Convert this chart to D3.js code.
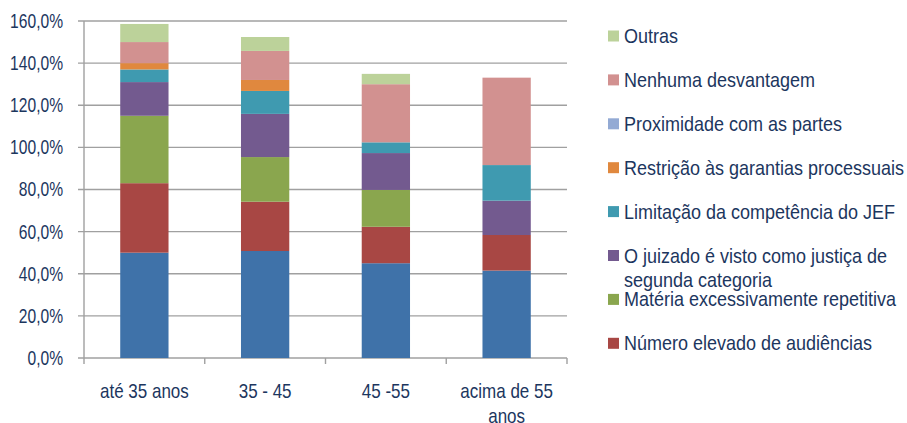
<!DOCTYPE html>
<html>
<head>
<meta charset="utf-8">
<script src="https://cdn.jsdelivr.net/npm/d3@7"></script>
<style>
  body { margin: 0; background: #fff; }
  text { font-family: "Liberation Sans", Arial, sans-serif; fill: #1c365e; }
</style>
</head>
<body>
<div id="chart"></div>
<script>
// categories (age groups)
var categories = ["até 35 anos", "35 - 45", "45 -55", "acima de 55 anos"];

// series, bottom to top (values in %)
var serieBase       = [50.0, 50.8, 45.0, 41.5];   // bottom blue series (no legend entry in the picture)
var numeroElevado   = [33.0, 23.4, 17.3, 16.9];
var materiaRepet    = [32.0, 21.2, 17.5, 0];
var juizadoSegunda  = [16.0, 20.5, 17.5, 16.3];
var limitacaoJEF    = [6.0, 10.9, 5.1, 16.9];
var restricaoGarant = [3.0, 5.2, 0, 0];
var proximidade     = [0, 0, 0, 0];
var nenhuma         = [10.0, 13.8, 27.6, 41.5];
var outras          = [8.6, 6.6, 4.9, 0];

var seriesNames = ["base", "Número elevado de audiências", "Matéria excessivamente repetitiva",
  "O juizado é visto como justiça de segunda categoria", "Limitação da competência do JEF",
  "Restrição às garantias processuais", "Proximidade com as partes", "Nenhuma desvantagem", "Outras"];
var seriesValues = [serieBase, numeroElevado, materiaRepet, juizadoSegunda, limitacaoJEF,
  restricaoGarant, proximidade, nenhuma, outras];
var colors = ["#3f72a9", "#a84744", "#8aa64e", "#735a8f", "#3f9ab0", "#e0883e", "#93aad4", "#d29190", "#bcd29a"];

// legend lines (top to bottom), by series index
var legendOrder = [8, 7, 6, 5, 4, 3, 2, 1];
var legendLines = {3: ["O juizado é visto como justiça de", "segunda categoria"]};

var yTicks = [0, 20, 40, 60, 80, 100, 120, 140, 160];

var width = 907, height = 423;
var margin = {top: 21, right: 340, bottom: 65, left: 84};
var w = width - margin.left - margin.right,
    h = height - margin.top - margin.bottom;

// the original uses a condensed face; squeeze Liberation Sans horizontally
var fs = "20px";
var sxY = 0.78, sxX = 0.85, sxLeg = 0.9;

// build table for the stack
var table = categories.map(function(c, i) {
  var row = {cat: c};
  seriesNames.forEach(function(s, j) { row[s] = seriesValues[j][i]; });
  return row;
});
var stacked = d3.stack().keys(seriesNames)(table);

var svg = d3.select("#chart").append("svg")
  .attr("width", width)
  .attr("height", height);

var g = svg.append("g")
  .attr("transform", "translate(" + margin.left + "," + margin.top + ")");

var x = d3.scaleBand().domain(categories).range([0, w]).padding(0);
var y = d3.scaleLinear().domain([0, 160]).range([h, 0]);
var barW = x.bandwidth() * 0.4;

// gridlines
g.selectAll(".grid")
  .data(yTicks)
  .enter().append("line")
  .attr("x1", -6).attr("x2", w)
  .attr("y1", d => y(d)).attr("y2", d => y(d))
  .style("stroke", "#a0a0a0")
  .style("stroke-width", 1.4);

// y axis labels
var yAxis = d3.axisLeft(y)
  .tickValues(yTicks)
  .tickSize(0)
  .tickPadding(21)
  .tickFormat(d => d3.format(".1f")(d).replace(".", ",") + "%");
var ya = g.append("g").call(yAxis);
ya.select(".domain").remove();
ya.attr("font-family", null).attr("font-size", null);
ya.selectAll("text")
  .style("font-size", fs).style("fill", "#1c365e")
  .attr("x", -21 / sxY)
  .attr("transform", "scale(" + sxY + ",1)");

// y axis line
g.append("line")
  .attr("x1", 0).attr("x2", 0)
  .attr("y1", 0).attr("y2", h)
  .style("stroke", "#a0a0a0").style("stroke-width", 1.4);

// bars
g.selectAll(".serie")
  .data(stacked)
  .enter().append("g")
  .attr("class", "serie")
  .style("fill", (d, i) => colors[i])
  .selectAll("rect")
  .data(d => d)
  .enter().append("rect")
  .attr("x", d => x(d.data.cat) + (x.bandwidth() - barW) / 2)
  .attr("width", barW)
  .attr("y", d => y(d[1]))
  .attr("height", d => y(d[0]) - y(d[1]));

// bottom ticks at category boundaries
var bounds = categories.map(c => x(c)).concat([w]);
g.selectAll(".xtick")
  .data(bounds)
  .enter().append("line")
  .attr("x1", d => d).attr("x2", d => d)
  .attr("y1", h).attr("y2", h + 6)
  .style("stroke", "#a0a0a0").style("stroke-width", 1.4);

// x labels, wrapped to the band width
var xl = g.selectAll(".xlabel")
  .data(categories)
  .enter().append("g")
  .attr("transform", d => "translate(" + (x(d) + x.bandwidth() / 2) + "," + (h + 40) + ") scale(" + sxX + ",1)")
  .append("text")
  .style("text-anchor", "middle")
  .style("font-size", fs);
xl.each(function(d) {
  var t = d3.select(this), words = d.split(" "), line = [];
  var ts = t.append("tspan").attr("x", 0).attr("dy", 0);
  words.forEach(function(wd) {
    line.push(wd);
    ts.text(line.join(" "));
    if (ts.node().getComputedTextLength() * sxX > x.bandwidth() - 12 && line.length > 1) {
      line.pop();
      ts.text(line.join(" "));
      line = [wd];
      ts = t.append("tspan").attr("x", 0).attr("dy", 25).text(wd);
    }
  });
});

// legend
var legend = svg.append("g").attr("transform", "translate(608,0)");
var legItem = legend.selectAll(".leg")
  .data(legendOrder)
  .enter().append("g")
  .attr("transform", (d, i) => "translate(0," + (36 + i * 43.9) + ")");
legItem.append("rect")
  .attr("x", 0).attr("y", -5.5)
  .attr("width", 11).attr("height", 11)
  .style("fill", d => colors[d]);
legItem.append("g")
  .attr("transform", "translate(16,7) scale(" + sxLeg + ",1)")
  .append("text")
  .style("font-size", fs)
  .each(function(d) {
    var lines = legendLines[d] || [seriesNames[d]];
    var t = d3.select(this);
    lines.forEach(function(l, k) {
      t.append("tspan").attr("x", 0).attr("dy", k === 0 ? 0 : 24.3).text(l);
    });
  });
</script>
</body>
</html>
